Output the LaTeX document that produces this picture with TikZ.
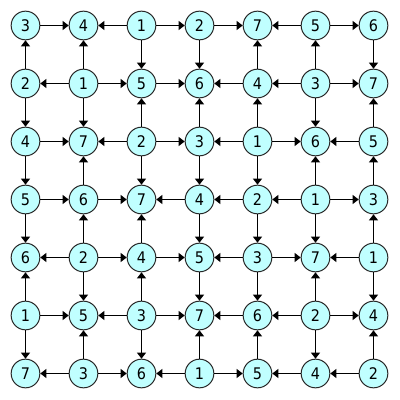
\documentclass[tikz,border=0pt]{standalone}
\usepackage{fontspec}
\setmainfont{DejaVu Sans Condensed}
\usetikzlibrary{arrows.meta}
\definecolor{cellfill}{RGB}{192,255,255}
\begin{document}
\begin{tikzpicture}[x=0.75pt,y=-0.75pt,
  cell/.style={circle,draw=black!85,fill=cellfill,line width=0.75pt,minimum size=21.5pt,inner sep=0pt,font=\fontsize{12}{13}\selectfont},
  link/.style={line width=0.75pt,-{Triangle[length=4.5pt,width=6.75pt]}}]
\useasboundingbox (0,0) rectangle (400,400);
\def\vals{{3,4,1,2,7,5,6,
            2,1,5,6,4,3,7,
            4,7,2,3,1,6,5,
            5,6,7,4,2,1,3,
            6,2,4,5,3,7,1,
            1,5,3,7,6,2,4,
            7,3,6,1,5,4,2}}
\foreach \r in {0,...,6}{\foreach \c in {0,...,6}{
  \pgfmathtruncatemacro\v{\vals[\r*7+\c]}
  \node[cell] (n\r\c) at (25.5+58*\c, 25.5+58*\r) {\v};
}}
% horizontal connectors
\foreach \r in {0,...,6}{\foreach \c in {0,...,5}{
  \pgfmathtruncatemacro\cn{\c+1}
  \pgfmathtruncatemacro\a{\vals[\r*7+\c]}
  \pgfmathtruncatemacro\b{\vals[\r*7+\c+1]}
  \ifnum\a<\b \draw[link] (n\r\c) -- (n\r\cn); \else \draw[link] (n\r\cn) -- (n\r\c); \fi
}}
% vertical connectors
\foreach \r in {0,...,5}{\foreach \c in {0,...,6}{
  \pgfmathtruncatemacro\rn{\r+1}
  \pgfmathtruncatemacro\a{\vals[\r*7+\c]}
  \pgfmathtruncatemacro\b{\vals[\r*7+\c+7]}
  \ifnum\a<\b \draw[link] (n\r\c) -- (n\rn\c); \else \draw[link] (n\rn\c) -- (n\r\c); \fi
}}
\end{tikzpicture}
\end{document}
